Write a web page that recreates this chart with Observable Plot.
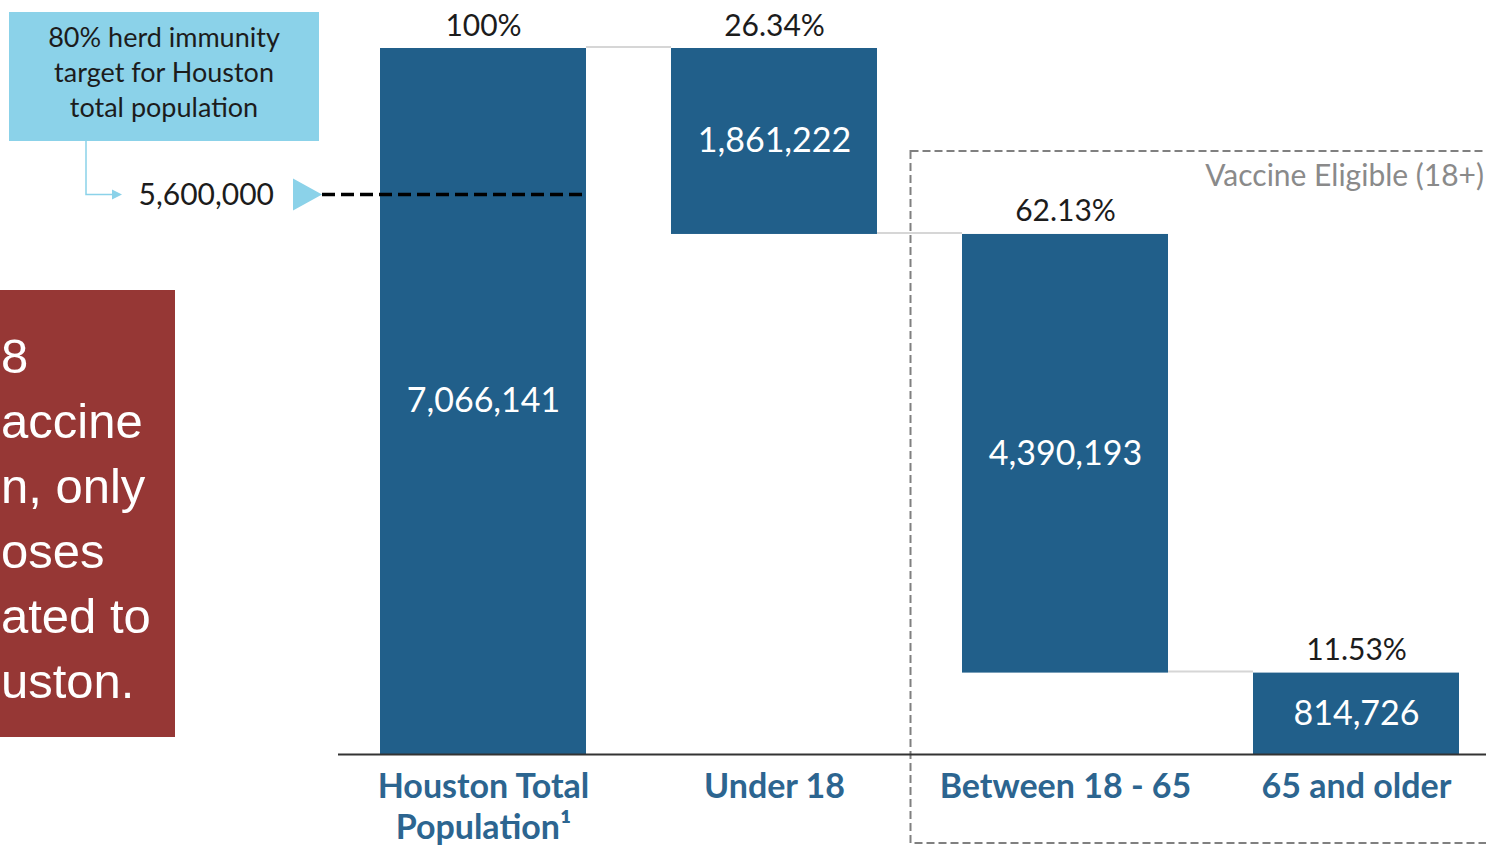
<!DOCTYPE html>
<html><head><meta charset="utf-8">
<script src="https://cdn.jsdelivr.net/npm/d3@7"></script>
<script src="https://cdn.jsdelivr.net/npm/@observablehq/plot@0.6"></script>
<style>
html,body{margin:0;padding:0;background:#fff;overflow:hidden;}
#chart svg{display:block}
</style></head><body><div id="chart"></div>
<script>
// ---- data ----
const categories = ["Houston Total\nPopulation¹", "Under 18", "Between 18 - 65", "65 and older"];
const populations = [7066141, 1861222, 4390193, 814726];
const pctLabels = ["100%", "26.34%", "62.13%", "11.53%"];
const valueLabels = ["7,066,141", "1,861,222", "4,390,193", "814,726"];
const targetValue = 5600000;
const targetLabel = "5,600,000";
const calloutLines = ["80% herd immunity", "target for Houston", "total population"];
const eligibleLabel = "Vaccine Eligible (18+)";
const sideNoteLines = ["8", "accine", "n, only", "oses", "ated to", "uston."];

// waterfall: first bar is total, the rest step down from it
let running = populations[0];
const rows = categories.map((cat, i) => {
  let y1, y2;
  if (i === 0) { y1 = 0; y2 = populations[0]; }
  else { y2 = running; y1 = running - populations[i]; running = y1; }
  return {cat, y1, y2, pct: pctLabels[i], label: valueLabels[i]};
});

const BAR = "#215F8A";
const SKY = "#8BD2E9";

function connectors(index, {x, y}) {
  const g = d3.create("svg:g");
  const bw = x.bandwidth();
  for (let i = 0; i < rows.length - 1; i++) {
    const yy = y(rows[i + 1].y2) - 1;
    g.append("line")
      .attr("x1", x(rows[i].cat) + bw).attr("x2", x(rows[i + 1].cat))
      .attr("y1", yy).attr("y2", yy)
      .attr("stroke", "#d6d6d6").attr("stroke-width", 2);
  }
  return g.node();
}

function eligibleBox(index, {x}) {
  const g = d3.create("svg:g");
  const bw = x.bandwidth();
  const left = x(categories[2]) - bw * 0.25;
  g.append("rect").attr("x", left).attr("y", 151).attr("width", 620).attr("height", 692)
    .attr("fill", "none").attr("stroke", "#808080").attr("stroke-width", 2)
    .attr("stroke-dasharray", "8,4");
  g.append("text").attr("x", 1484).attr("y", 186).attr("text-anchor", "end")
    .attr("font-family", "Lato, sans-serif").attr("font-size", 30).attr("fill", "#8a8a8a")
    .text(eligibleLabel);
  return g.node();
}

function sideNote() {
  const g = d3.create("svg:g");
  g.append("rect").attr("x", 0).attr("y", 290).attr("width", 175).attr("height", 447).attr("fill", "#963735");
  sideNoteLines.forEach((t, i) => {
    g.append("text").attr("x", 1).attr("y", 373 + i * 65).attr("text-anchor", "start")
      .attr("font-family", "'Liberation Sans', Arial, sans-serif").attr("font-size", 49)
      .attr("fill", "#fff").text(t);
  });
  return g.node();
}

function target(index, {x, y}) {
  const g = d3.create("svg:g");
  const bw = x.bandwidth();
  const yT = y(targetValue);
  // callout box
  g.append("rect").attr("x", 9).attr("y", 12).attr("width", 310).attr("height", 129).attr("fill", SKY);
  calloutLines.forEach((t, i) => {
    g.append("text").attr("x", 164).attr("y", 47 + i * 35).attr("text-anchor", "middle")
      .attr("font-family", "Lato, sans-serif").attr("font-size", 27).attr("fill", "#1c1c1c").text(t);
  });
  // connector arrow
  g.append("path").attr("d", `M86,141V${yT}H113`).attr("fill", "none").attr("stroke", SKY).attr("stroke-width", 1.5);
  g.append("path").attr("d", `M112,${yT - 5}L122,${yT}L112,${yT + 5}Z`).attr("fill", SKY);
  // target value label
  g.append("text").attr("x", 274).attr("y", yT).attr("dy", "0.36em").attr("text-anchor", "end")
    .attr("font-family", "Lato, sans-serif").attr("font-size", 30).attr("fill", "#1c1c1c").text(targetLabel);
  // triangle marker
  g.append("path").attr("d", `M293,${yT - 16}L322,${yT}L293,${yT + 16}Z`).attr("fill", SKY);
  // dashed target line
  g.append("line").attr("x1", 322).attr("x2", x(categories[0]) + bw - 2)
    .attr("y1", yT).attr("y2", yT).attr("stroke", "#000").attr("stroke-width", 3.5)
    .attr("stroke-dasharray", "13,6");
  return g.node();
}

const chart = Plot.plot({
  width: 1486, height: 845,
  marginLeft: 338, marginRight: 0, marginTop: 0, marginBottom: 0,
  style: {fontFamily: "Lato, sans-serif", background: "#fff", overflow: "hidden"},
  x: {type: "band", domain: categories, range: [338, 1502], paddingInner: 0.292, paddingOuter: 0.146, axis: null},
  y: {domain: [0, populations[0]], range: [754, 48], axis: null},
  marks: [
    sideNote,
    eligibleBox,
    connectors,
    Plot.barY(rows, {x: "cat", y1: "y1", y2: "y2", fill: BAR}),
    Plot.ruleY([0], {stroke: "#333", strokeWidth: 2}),
    Plot.text(rows, {x: "cat", y: d => (d.y1 + d.y2) / 2, text: "label", fill: "#fff", fontSize: 34}),
    Plot.text(rows, {x: "cat", y: "y2", text: "pct", fill: "#1c1c1c", fontSize: 30, lineAnchor: "bottom", dy: -13}),
    Plot.text(rows, {x: "cat", y: () => 0, text: "cat", lineAnchor: "top", dy: 15, fontSize: 34,
      fontWeight: "bold", fill: "#2C6590", lineHeight: 1.2}),
    target
  ]
});
document.getElementById("chart").appendChild(chart);
</script>
</body></html>
